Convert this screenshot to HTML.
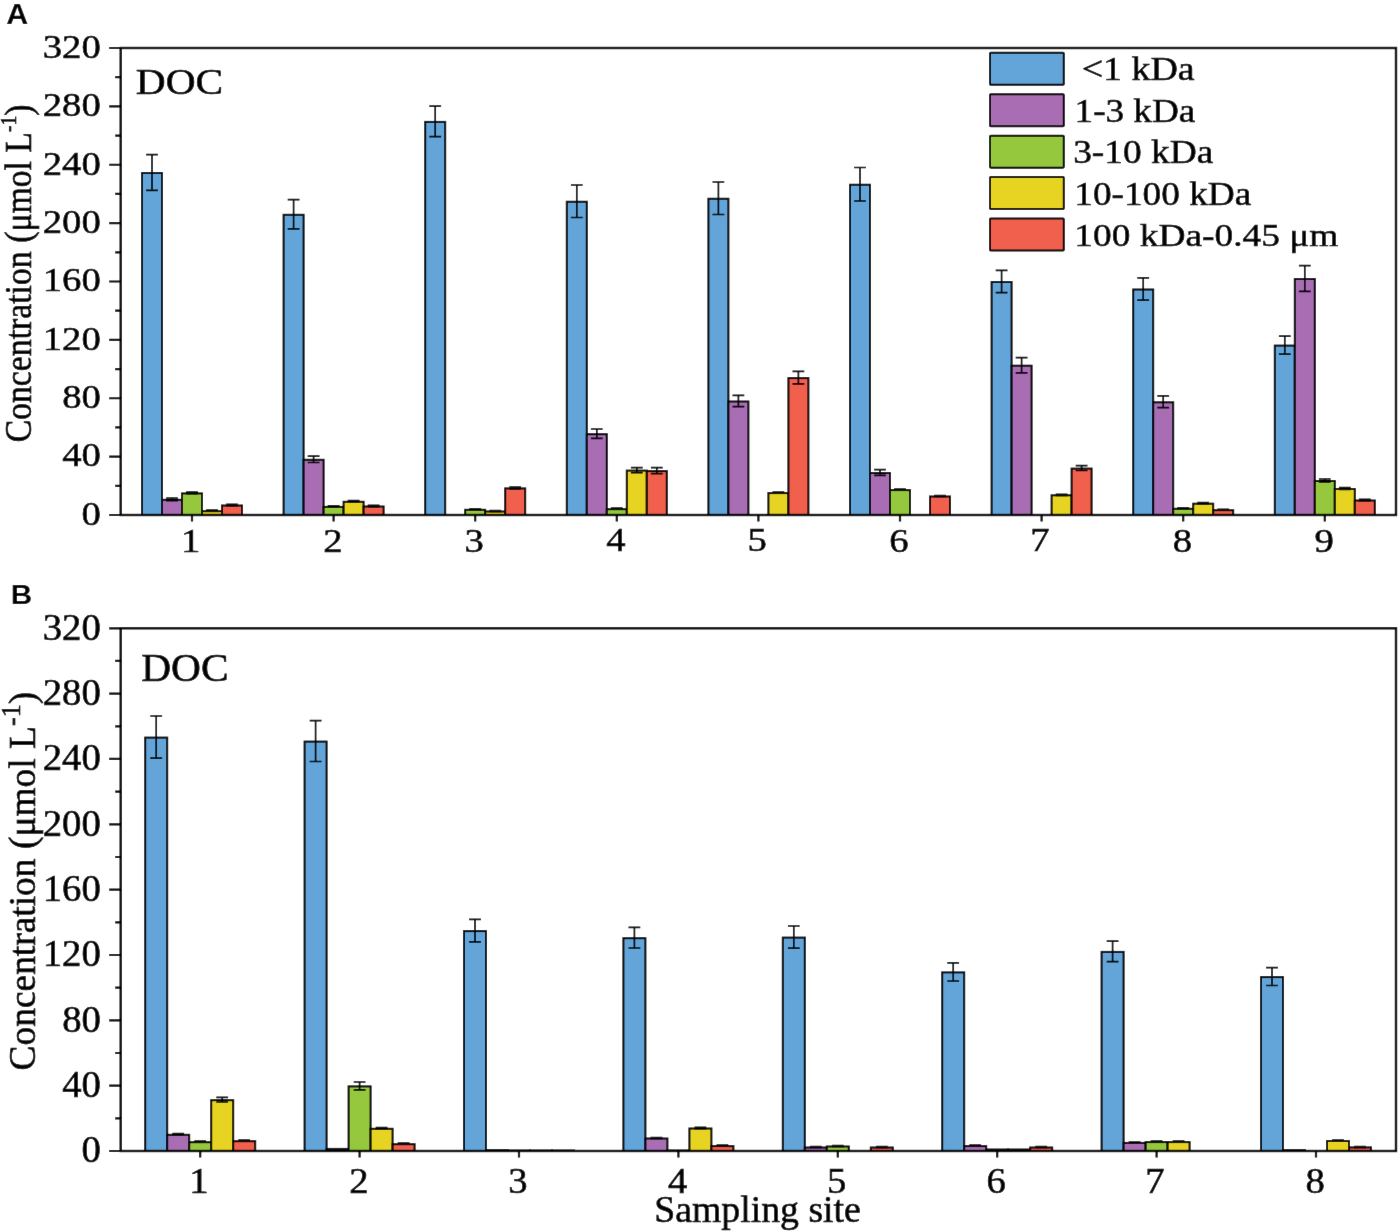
<!DOCTYPE html>
<html><head><meta charset="utf-8"><style>html,body{margin:0;padding:0;background:#fff;overflow:hidden}svg{display:block}</style></head>
<body><svg width="1400" height="1231" viewBox="0 0 1400 1231">
<defs><filter id="bl" x="-1%" y="-1%" width="102%" height="102%"><feConvolveMatrix order="3" kernelMatrix="0.005 0.035 0.005 0.035 0.84 0.035 0.005 0.035 0.005" edgeMode="duplicate" preserveAlpha="false"/></filter></defs>
<g filter="url(#bl)">
<rect width="1400" height="1231" fill="#fff"/>
<rect x="142.00" y="173.00" width="20.00" height="342.00" fill="#64a4d9" stroke="#000" stroke-width="2.0"/>
<path d="M152.00 154.70V190.30M146.10 154.70H157.90M146.10 190.30H157.90" stroke="#000" stroke-width="1.7" fill="none"/>
<rect x="162.00" y="499.80" width="20.00" height="15.20" fill="#a96db3" stroke="#000" stroke-width="2.0"/>
<path d="M172.00 498.00V500.60M166.10 498.00H177.90M166.10 500.60H177.90" stroke="#000" stroke-width="1.7" fill="none"/>
<rect x="182.00" y="493.40" width="20.00" height="21.60" fill="#95c83e" stroke="#000" stroke-width="2.0"/>
<path d="M192.00 492.10V493.70M186.10 492.10H197.90M186.10 493.70H197.90" stroke="#000" stroke-width="1.7" fill="none"/>
<rect x="202.00" y="511.20" width="20.00" height="3.80" fill="#e7d320" stroke="#000" stroke-width="2.0"/>
<path d="M212.00 510.20V511.20M206.10 510.20H217.90M206.10 511.20H217.90" stroke="#000" stroke-width="1.7" fill="none"/>
<rect x="222.00" y="505.50" width="20.00" height="9.50" fill="#f15e4e" stroke="#000" stroke-width="2.0"/>
<path d="M232.00 504.40V505.60M226.10 504.40H237.90M226.10 505.60H237.90" stroke="#000" stroke-width="1.7" fill="none"/>
<rect x="283.60" y="214.80" width="20.00" height="300.20" fill="#64a4d9" stroke="#000" stroke-width="2.0"/>
<path d="M293.60 199.70V228.90M287.70 199.70H299.50M287.70 228.90H299.50" stroke="#000" stroke-width="1.7" fill="none"/>
<rect x="303.60" y="459.80" width="20.00" height="55.20" fill="#a96db3" stroke="#000" stroke-width="2.0"/>
<path d="M313.60 456.10V462.50M307.70 456.10H319.50M307.70 462.50H319.50" stroke="#000" stroke-width="1.7" fill="none"/>
<rect x="323.60" y="506.90" width="20.00" height="8.10" fill="#95c83e" stroke="#000" stroke-width="2.0"/>
<path d="M333.60 505.80V507.00M327.70 505.80H339.50M327.70 507.00H339.50" stroke="#000" stroke-width="1.7" fill="none"/>
<rect x="343.60" y="501.80" width="20.00" height="13.20" fill="#e7d320" stroke="#000" stroke-width="2.0"/>
<path d="M353.60 500.60V502.00M347.70 500.60H359.50M347.70 502.00H359.50" stroke="#000" stroke-width="1.7" fill="none"/>
<rect x="363.60" y="506.50" width="20.00" height="8.50" fill="#f15e4e" stroke="#000" stroke-width="2.0"/>
<path d="M373.60 505.40V506.60M367.70 505.40H379.50M367.70 506.60H379.50" stroke="#000" stroke-width="1.7" fill="none"/>
<rect x="425.20" y="121.90" width="20.00" height="393.10" fill="#64a4d9" stroke="#000" stroke-width="2.0"/>
<path d="M435.20 106.10V136.70M429.30 106.10H441.10M429.30 136.70H441.10" stroke="#000" stroke-width="1.7" fill="none"/>
<rect x="465.20" y="509.80" width="20.00" height="5.20" fill="#95c83e" stroke="#000" stroke-width="2.0"/>
<path d="M475.20 508.90V509.70M469.30 508.90H481.10M469.30 509.70H481.10" stroke="#000" stroke-width="1.7" fill="none"/>
<rect x="485.20" y="511.50" width="20.00" height="3.50" fill="#e7d320" stroke="#000" stroke-width="2.0"/>
<path d="M495.20 510.60V511.40M489.30 510.60H501.10M489.30 511.40H501.10" stroke="#000" stroke-width="1.7" fill="none"/>
<rect x="505.20" y="488.40" width="20.00" height="26.60" fill="#f15e4e" stroke="#000" stroke-width="2.0"/>
<path d="M515.20 487.00V488.80M509.30 487.00H521.10M509.30 488.80H521.10" stroke="#000" stroke-width="1.7" fill="none"/>
<rect x="566.80" y="201.75" width="20.00" height="313.25" fill="#64a4d9" stroke="#000" stroke-width="2.0"/>
<path d="M576.80 185.00V217.50M570.90 185.00H582.70M570.90 217.50H582.70" stroke="#000" stroke-width="1.7" fill="none"/>
<rect x="586.80" y="434.20" width="20.00" height="80.80" fill="#a96db3" stroke="#000" stroke-width="2.0"/>
<path d="M596.80 429.00V438.40M590.90 429.00H602.70M590.90 438.40H602.70" stroke="#000" stroke-width="1.7" fill="none"/>
<rect x="606.80" y="509.20" width="20.00" height="5.80" fill="#95c83e" stroke="#000" stroke-width="2.0"/>
<path d="M616.80 508.20V509.20M610.90 508.20H622.70M610.90 509.20H622.70" stroke="#000" stroke-width="1.7" fill="none"/>
<rect x="626.80" y="470.60" width="20.00" height="44.40" fill="#e7d320" stroke="#000" stroke-width="2.0"/>
<path d="M636.80 467.60V472.60M630.90 467.60H642.70M630.90 472.60H642.70" stroke="#000" stroke-width="1.7" fill="none"/>
<rect x="646.80" y="471.10" width="20.00" height="43.90" fill="#f15e4e" stroke="#000" stroke-width="2.0"/>
<path d="M656.80 467.60V473.60M650.90 467.60H662.70M650.90 473.60H662.70" stroke="#000" stroke-width="1.7" fill="none"/>
<rect x="708.40" y="198.75" width="20.00" height="316.25" fill="#64a4d9" stroke="#000" stroke-width="2.0"/>
<path d="M718.40 182.00V214.50M712.50 182.00H724.30M712.50 214.50H724.30" stroke="#000" stroke-width="1.7" fill="none"/>
<rect x="728.40" y="401.50" width="20.00" height="113.50" fill="#a96db3" stroke="#000" stroke-width="2.0"/>
<path d="M738.40 395.40V406.60M732.50 395.40H744.30M732.50 406.60H744.30" stroke="#000" stroke-width="1.7" fill="none"/>
<rect x="768.40" y="493.10" width="20.00" height="21.90" fill="#e7d320" stroke="#000" stroke-width="2.0"/>
<path d="M778.40 492.00V493.20M772.50 492.00H784.30M772.50 493.20H784.30" stroke="#000" stroke-width="1.7" fill="none"/>
<rect x="788.40" y="378.10" width="20.00" height="136.90" fill="#f15e4e" stroke="#000" stroke-width="2.0"/>
<path d="M798.40 371.40V383.80M792.50 371.40H804.30M792.50 383.80H804.30" stroke="#000" stroke-width="1.7" fill="none"/>
<rect x="850.00" y="184.75" width="20.00" height="330.25" fill="#64a4d9" stroke="#000" stroke-width="2.0"/>
<path d="M860.00 167.50V201.00M854.10 167.50H865.90M854.10 201.00H865.90" stroke="#000" stroke-width="1.7" fill="none"/>
<rect x="870.00" y="473.00" width="20.00" height="42.00" fill="#a96db3" stroke="#000" stroke-width="2.0"/>
<path d="M880.00 469.70V475.30M874.10 469.70H885.90M874.10 475.30H885.90" stroke="#000" stroke-width="1.7" fill="none"/>
<rect x="890.00" y="490.10" width="20.00" height="24.90" fill="#95c83e" stroke="#000" stroke-width="2.0"/>
<path d="M900.00 489.00V490.20M894.10 489.00H905.90M894.10 490.20H905.90" stroke="#000" stroke-width="1.7" fill="none"/>
<rect x="930.00" y="496.50" width="20.00" height="18.50" fill="#f15e4e" stroke="#000" stroke-width="2.0"/>
<path d="M940.00 495.50V496.50M934.10 495.50H945.90M934.10 496.50H945.90" stroke="#000" stroke-width="1.7" fill="none"/>
<rect x="991.60" y="282.00" width="20.00" height="233.00" fill="#64a4d9" stroke="#000" stroke-width="2.0"/>
<path d="M1001.60 270.40V292.60M995.70 270.40H1007.50M995.70 292.60H1007.50" stroke="#000" stroke-width="1.7" fill="none"/>
<rect x="1011.60" y="365.70" width="20.00" height="149.30" fill="#a96db3" stroke="#000" stroke-width="2.0"/>
<path d="M1021.60 357.60V372.80M1015.70 357.60H1027.50M1015.70 372.80H1027.50" stroke="#000" stroke-width="1.7" fill="none"/>
<rect x="1051.60" y="495.30" width="20.00" height="19.70" fill="#e7d320" stroke="#000" stroke-width="2.0"/>
<path d="M1061.60 494.30V495.30M1055.70 494.30H1067.50M1055.70 495.30H1067.50" stroke="#000" stroke-width="1.7" fill="none"/>
<rect x="1071.60" y="468.60" width="20.00" height="46.40" fill="#f15e4e" stroke="#000" stroke-width="2.0"/>
<path d="M1081.60 465.70V470.50M1075.70 465.70H1087.50M1075.70 470.50H1087.50" stroke="#000" stroke-width="1.7" fill="none"/>
<rect x="1133.20" y="289.50" width="20.00" height="225.50" fill="#64a4d9" stroke="#000" stroke-width="2.0"/>
<path d="M1143.20 277.90V300.10M1137.30 277.90H1149.10M1137.30 300.10H1149.10" stroke="#000" stroke-width="1.7" fill="none"/>
<rect x="1153.20" y="402.30" width="20.00" height="112.70" fill="#a96db3" stroke="#000" stroke-width="2.0"/>
<path d="M1163.20 395.90V407.70M1157.30 395.90H1169.10M1157.30 407.70H1169.10" stroke="#000" stroke-width="1.7" fill="none"/>
<rect x="1173.20" y="508.80" width="20.00" height="6.20" fill="#95c83e" stroke="#000" stroke-width="2.0"/>
<path d="M1183.20 507.80V508.80M1177.30 507.80H1189.10M1177.30 508.80H1189.10" stroke="#000" stroke-width="1.7" fill="none"/>
<rect x="1193.20" y="503.70" width="20.00" height="11.30" fill="#e7d320" stroke="#000" stroke-width="2.0"/>
<path d="M1203.20 502.60V503.80M1197.30 502.60H1209.10M1197.30 503.80H1209.10" stroke="#000" stroke-width="1.7" fill="none"/>
<rect x="1213.20" y="510.20" width="20.00" height="4.80" fill="#f15e4e" stroke="#000" stroke-width="2.0"/>
<path d="M1223.20 509.30V510.10M1217.30 509.30H1229.10M1217.30 510.10H1229.10" stroke="#000" stroke-width="1.7" fill="none"/>
<rect x="1274.80" y="345.60" width="20.00" height="169.40" fill="#64a4d9" stroke="#000" stroke-width="2.0"/>
<path d="M1284.80 336.10V354.10M1278.90 336.10H1290.70M1278.90 354.10H1290.70" stroke="#000" stroke-width="1.7" fill="none"/>
<rect x="1294.80" y="279.00" width="20.00" height="236.00" fill="#a96db3" stroke="#000" stroke-width="2.0"/>
<path d="M1304.80 265.60V291.40M1298.90 265.60H1310.70M1298.90 291.40H1310.70" stroke="#000" stroke-width="1.7" fill="none"/>
<rect x="1314.80" y="481.00" width="20.00" height="34.00" fill="#95c83e" stroke="#000" stroke-width="2.0"/>
<path d="M1324.80 479.00V482.00M1318.90 479.00H1330.70M1318.90 482.00H1330.70" stroke="#000" stroke-width="1.7" fill="none"/>
<rect x="1334.80" y="489.00" width="20.00" height="26.00" fill="#e7d320" stroke="#000" stroke-width="2.0"/>
<path d="M1344.80 487.50V489.50M1338.90 487.50H1350.70M1338.90 489.50H1350.70" stroke="#000" stroke-width="1.7" fill="none"/>
<rect x="1354.80" y="500.50" width="20.00" height="14.50" fill="#f15e4e" stroke="#000" stroke-width="2.0"/>
<path d="M1364.80 499.40V500.60M1358.90 499.40H1370.70M1358.90 500.60H1370.70" stroke="#000" stroke-width="1.7" fill="none"/>
<rect x="120.70" y="48.00" width="1275.30" height="467.00" fill="none" stroke="#000" stroke-width="2.4"/>
<path d="M109.20 515.00H120.70M115.20 485.81H120.70M109.20 456.62H120.70M115.20 427.44H120.70M109.20 398.25H120.70M115.20 369.06H120.70M109.20 339.88H120.70M115.20 310.69H120.70M109.20 281.50H120.70M115.20 252.31H120.70M109.20 223.12H120.70M115.20 193.94H120.70M109.20 164.75H120.70M115.20 135.56H120.70M109.20 106.38H120.70M115.20 77.19H120.70M109.20 48.00H120.70M192.00 515.00V521.50M333.60 515.00V521.50M475.20 515.00V521.50M616.80 515.00V521.50M758.40 515.00V521.50M900.00 515.00V521.50M1041.60 515.00V521.50M1183.20 515.00V521.50M1324.80 515.00V521.50" stroke="#000" stroke-width="2.2" fill="none"/>
<text transform="translate(81.49,524.82) scale(0.3872,0.3397)" font-family="Liberation Serif" font-weight="normal" font-size="100" fill="#000" stroke="#000" stroke-width="1.6">0</text>
<text transform="translate(62.13,466.45) scale(0.3872,0.3397)" font-family="Liberation Serif" font-weight="normal" font-size="100" fill="#000" stroke="#000" stroke-width="1.6">40</text>
<text transform="translate(62.13,408.07) scale(0.3872,0.3397)" font-family="Liberation Serif" font-weight="normal" font-size="100" fill="#000" stroke="#000" stroke-width="1.6">80</text>
<text transform="translate(42.76,349.70) scale(0.3872,0.3397)" font-family="Liberation Serif" font-weight="normal" font-size="100" fill="#000" stroke="#000" stroke-width="1.6">120</text>
<text transform="translate(42.76,291.32) scale(0.3872,0.3397)" font-family="Liberation Serif" font-weight="normal" font-size="100" fill="#000" stroke="#000" stroke-width="1.6">160</text>
<text transform="translate(42.76,232.95) scale(0.3872,0.3397)" font-family="Liberation Serif" font-weight="normal" font-size="100" fill="#000" stroke="#000" stroke-width="1.6">200</text>
<text transform="translate(42.76,174.57) scale(0.3872,0.3397)" font-family="Liberation Serif" font-weight="normal" font-size="100" fill="#000" stroke="#000" stroke-width="1.6">240</text>
<text transform="translate(42.76,116.20) scale(0.3872,0.3397)" font-family="Liberation Serif" font-weight="normal" font-size="100" fill="#000" stroke="#000" stroke-width="1.6">280</text>
<text transform="translate(42.76,57.82) scale(0.3872,0.3397)" font-family="Liberation Serif" font-weight="normal" font-size="100" fill="#000" stroke="#000" stroke-width="1.6">320</text>
<text transform="translate(180.94,551.54) scale(0.3870,0.3370)" font-family="Liberation Serif" font-weight="normal" font-size="100" fill="#000" stroke="#000" stroke-width="1.6">1</text>
<text transform="translate(323.32,551.54) scale(0.3870,0.3370)" font-family="Liberation Serif" font-weight="normal" font-size="100" fill="#000" stroke="#000" stroke-width="1.6">2</text>
<text transform="translate(464.53,551.54) scale(0.3870,0.3370)" font-family="Liberation Serif" font-weight="normal" font-size="100" fill="#000" stroke="#000" stroke-width="1.6">3</text>
<text transform="translate(606.33,551.20) scale(0.3870,0.3370)" font-family="Liberation Serif" font-weight="normal" font-size="100" fill="#000" stroke="#000" stroke-width="1.6">4</text>
<text transform="translate(747.54,551.20) scale(0.3870,0.3370)" font-family="Liberation Serif" font-weight="normal" font-size="100" fill="#000" stroke="#000" stroke-width="1.6">5</text>
<text transform="translate(889.33,551.54) scale(0.3870,0.3370)" font-family="Liberation Serif" font-weight="normal" font-size="100" fill="#000" stroke="#000" stroke-width="1.6">6</text>
<text transform="translate(1030.35,551.20) scale(0.3870,0.3370)" font-family="Liberation Serif" font-weight="normal" font-size="100" fill="#000" stroke="#000" stroke-width="1.6">7</text>
<text transform="translate(1172.72,551.54) scale(0.3870,0.3370)" font-family="Liberation Serif" font-weight="normal" font-size="100" fill="#000" stroke="#000" stroke-width="1.6">8</text>
<text transform="translate(1314.52,551.54) scale(0.3870,0.3370)" font-family="Liberation Serif" font-weight="normal" font-size="100" fill="#000" stroke="#000" stroke-width="1.6">9</text>
<text transform="translate(30.55,442.35) rotate(-90) scale(0.3374,0.3833)" font-family="Liberation Serif" font-weight="normal" font-size="100" fill="#000" stroke="#000" stroke-width="1.6">Concentration (μmol L<tspan dy="-38" font-size="58">-1</tspan><tspan dy="38">)</tspan></text>
<text transform="translate(135.86,94.29) scale(0.4138,0.3574)" font-family="Liberation Serif" font-weight="normal" font-size="100" fill="#000" stroke="#000" stroke-width="1.6">DOC</text>
<rect x="145.20" y="737.60" width="22.00" height="413.40" fill="#64a4d9" stroke="#000" stroke-width="2.0"/>
<path d="M156.20 716.00V758.20M150.30 716.00H162.10M150.30 758.20H162.10" stroke="#000" stroke-width="1.7" fill="none"/>
<rect x="167.20" y="1134.80" width="22.00" height="16.20" fill="#a96db3" stroke="#000" stroke-width="2.0"/>
<path d="M178.20 1133.50V1135.10M172.30 1133.50H184.10M172.30 1135.10H184.10" stroke="#000" stroke-width="1.7" fill="none"/>
<rect x="189.20" y="1142.20" width="22.00" height="8.80" fill="#95c83e" stroke="#000" stroke-width="2.0"/>
<path d="M200.20 1141.20V1142.20M194.30 1141.20H206.10M194.30 1142.20H206.10" stroke="#000" stroke-width="1.7" fill="none"/>
<rect x="211.20" y="1100.20" width="22.00" height="50.80" fill="#e7d320" stroke="#000" stroke-width="2.0"/>
<path d="M222.20 1097.40V1102.00M216.30 1097.40H228.10M216.30 1102.00H228.10" stroke="#000" stroke-width="1.7" fill="none"/>
<rect x="233.20" y="1141.20" width="22.00" height="9.80" fill="#f15e4e" stroke="#000" stroke-width="2.0"/>
<path d="M244.20 1140.20V1141.20M238.30 1140.20H250.10M238.30 1141.20H250.10" stroke="#000" stroke-width="1.7" fill="none"/>
<rect x="304.60" y="741.60" width="22.00" height="409.40" fill="#64a4d9" stroke="#000" stroke-width="2.0"/>
<path d="M315.60 720.70V761.50M309.70 720.70H321.50M309.70 761.50H321.50" stroke="#000" stroke-width="1.7" fill="none"/>
<rect x="326.60" y="1148.90" width="22.00" height="2.10" fill="#a96db3" stroke="#000" stroke-width="2.0"/>
<rect x="348.60" y="1086.40" width="22.00" height="64.60" fill="#95c83e" stroke="#000" stroke-width="2.0"/>
<path d="M359.60 1082.00V1089.80M353.70 1082.00H365.50M353.70 1089.80H365.50" stroke="#000" stroke-width="1.7" fill="none"/>
<rect x="370.60" y="1128.80" width="22.00" height="22.20" fill="#e7d320" stroke="#000" stroke-width="2.0"/>
<path d="M381.60 1127.60V1129.00M375.70 1127.60H387.50M375.70 1129.00H387.50" stroke="#000" stroke-width="1.7" fill="none"/>
<rect x="392.60" y="1144.20" width="22.00" height="6.80" fill="#f15e4e" stroke="#000" stroke-width="2.0"/>
<path d="M403.60 1143.20V1144.20M397.70 1143.20H409.50M397.70 1144.20H409.50" stroke="#000" stroke-width="1.7" fill="none"/>
<rect x="464.00" y="931.10" width="22.00" height="219.90" fill="#64a4d9" stroke="#000" stroke-width="2.0"/>
<path d="M475.00 919.40V941.80M469.10 919.40H480.90M469.10 941.80H480.90" stroke="#000" stroke-width="1.7" fill="none"/>
<rect x="486.00" y="1150.00" width="22.00" height="1.00" fill="#a96db3" stroke="#000" stroke-width="2.0"/>
<rect x="508.00" y="1150.50" width="22.00" height="0.50" fill="#95c83e" stroke="#000" stroke-width="2.0"/>
<rect x="530.00" y="1150.50" width="22.00" height="0.50" fill="#e7d320" stroke="#000" stroke-width="2.0"/>
<rect x="552.00" y="1150.50" width="22.00" height="0.50" fill="#f15e4e" stroke="#000" stroke-width="2.0"/>
<rect x="623.40" y="938.20" width="22.00" height="212.80" fill="#64a4d9" stroke="#000" stroke-width="2.0"/>
<path d="M634.40 927.40V948.00M628.50 927.40H640.30M628.50 948.00H640.30" stroke="#000" stroke-width="1.7" fill="none"/>
<rect x="645.40" y="1138.50" width="22.00" height="12.50" fill="#a96db3" stroke="#000" stroke-width="2.0"/>
<path d="M656.40 1137.50V1138.50M650.50 1137.50H662.30M650.50 1138.50H662.30" stroke="#000" stroke-width="1.7" fill="none"/>
<rect x="667.40" y="1150.50" width="22.00" height="0.50" fill="#95c83e" stroke="#000" stroke-width="2.0"/>
<rect x="689.40" y="1128.50" width="22.00" height="22.50" fill="#e7d320" stroke="#000" stroke-width="2.0"/>
<path d="M700.40 1127.40V1128.60M694.50 1127.40H706.30M694.50 1128.60H706.30" stroke="#000" stroke-width="1.7" fill="none"/>
<rect x="711.40" y="1146.10" width="22.00" height="4.90" fill="#f15e4e" stroke="#000" stroke-width="2.0"/>
<path d="M722.40 1145.20V1146.00M716.50 1145.20H728.30M716.50 1146.00H728.30" stroke="#000" stroke-width="1.7" fill="none"/>
<rect x="782.80" y="937.60" width="22.00" height="213.40" fill="#64a4d9" stroke="#000" stroke-width="2.0"/>
<path d="M793.80 926.00V948.20M787.90 926.00H799.70M787.90 948.20H799.70" stroke="#000" stroke-width="1.7" fill="none"/>
<rect x="804.80" y="1147.50" width="22.00" height="3.50" fill="#a96db3" stroke="#000" stroke-width="2.0"/>
<path d="M815.80 1146.60V1147.40M809.90 1146.60H821.70M809.90 1147.40H821.70" stroke="#000" stroke-width="1.7" fill="none"/>
<rect x="826.80" y="1146.50" width="22.00" height="4.50" fill="#95c83e" stroke="#000" stroke-width="2.0"/>
<path d="M837.80 1145.50V1146.50M831.90 1145.50H843.70M831.90 1146.50H843.70" stroke="#000" stroke-width="1.7" fill="none"/>
<rect x="870.80" y="1147.50" width="22.00" height="3.50" fill="#f15e4e" stroke="#000" stroke-width="2.0"/>
<path d="M881.80 1146.60V1147.40M875.90 1146.60H887.70M875.90 1147.40H887.70" stroke="#000" stroke-width="1.7" fill="none"/>
<rect x="942.20" y="972.40" width="22.00" height="178.60" fill="#64a4d9" stroke="#000" stroke-width="2.0"/>
<path d="M953.20 962.80V981.00M947.30 962.80H959.10M947.30 981.00H959.10" stroke="#000" stroke-width="1.7" fill="none"/>
<rect x="964.20" y="1146.10" width="22.00" height="4.90" fill="#a96db3" stroke="#000" stroke-width="2.0"/>
<path d="M975.20 1145.20V1146.00M969.30 1145.20H981.10M969.30 1146.00H981.10" stroke="#000" stroke-width="1.7" fill="none"/>
<rect x="986.20" y="1149.50" width="22.00" height="1.50" fill="#95c83e" stroke="#000" stroke-width="2.0"/>
<rect x="1008.20" y="1149.50" width="22.00" height="1.50" fill="#e7d320" stroke="#000" stroke-width="2.0"/>
<rect x="1030.20" y="1147.50" width="22.00" height="3.50" fill="#f15e4e" stroke="#000" stroke-width="2.0"/>
<path d="M1041.20 1146.60V1147.40M1035.30 1146.60H1047.10M1035.30 1147.40H1047.10" stroke="#000" stroke-width="1.7" fill="none"/>
<rect x="1101.60" y="951.90" width="22.00" height="199.10" fill="#64a4d9" stroke="#000" stroke-width="2.0"/>
<path d="M1112.60 941.20V961.60M1106.70 941.20H1118.50M1106.70 961.60H1118.50" stroke="#000" stroke-width="1.7" fill="none"/>
<rect x="1123.60" y="1142.90" width="22.00" height="8.10" fill="#a96db3" stroke="#000" stroke-width="2.0"/>
<path d="M1134.60 1142.00V1142.80M1128.70 1142.00H1140.50M1128.70 1142.80H1140.50" stroke="#000" stroke-width="1.7" fill="none"/>
<rect x="1145.60" y="1142.10" width="22.00" height="8.90" fill="#95c83e" stroke="#000" stroke-width="2.0"/>
<path d="M1156.60 1141.20V1142.00M1150.70 1141.20H1162.50M1150.70 1142.00H1162.50" stroke="#000" stroke-width="1.7" fill="none"/>
<rect x="1167.60" y="1142.10" width="22.00" height="8.90" fill="#e7d320" stroke="#000" stroke-width="2.0"/>
<path d="M1178.60 1141.20V1142.00M1172.70 1141.20H1184.50M1172.70 1142.00H1184.50" stroke="#000" stroke-width="1.7" fill="none"/>
<rect x="1261.00" y="977.10" width="22.00" height="173.90" fill="#64a4d9" stroke="#000" stroke-width="2.0"/>
<path d="M1272.00 967.70V985.50M1266.10 967.70H1277.90M1266.10 985.50H1277.90" stroke="#000" stroke-width="1.7" fill="none"/>
<rect x="1283.00" y="1150.00" width="22.00" height="1.00" fill="#a96db3" stroke="#000" stroke-width="2.0"/>
<rect x="1327.00" y="1141.00" width="22.00" height="10.00" fill="#e7d320" stroke="#000" stroke-width="2.0"/>
<path d="M1338.00 1140.00V1141.00M1332.10 1140.00H1343.90M1332.10 1141.00H1343.90" stroke="#000" stroke-width="1.7" fill="none"/>
<rect x="1349.00" y="1147.40" width="22.00" height="3.60" fill="#f15e4e" stroke="#000" stroke-width="2.0"/>
<path d="M1360.00 1146.50V1147.30M1354.10 1146.50H1365.90M1354.10 1147.30H1365.90" stroke="#000" stroke-width="1.7" fill="none"/>
<rect x="120.70" y="628.30" width="1275.30" height="522.70" fill="none" stroke="#000" stroke-width="2.4"/>
<path d="M109.20 1151.00H120.70M115.20 1118.33H120.70M109.20 1085.66H120.70M115.20 1052.99H120.70M109.20 1020.33H120.70M115.20 987.66H120.70M109.20 954.99H120.70M115.20 922.32H120.70M109.20 889.65H120.70M115.20 856.98H120.70M109.20 824.31H120.70M115.20 791.64H120.70M109.20 758.97H120.70M115.20 726.31H120.70M109.20 693.64H120.70M115.20 660.97H120.70M109.20 628.30H120.70M200.20 1151.00V1157.50M359.60 1151.00V1157.50M519.00 1151.00V1157.50M678.40 1151.00V1157.50M837.80 1151.00V1157.50M997.20 1151.00V1157.50M1156.60 1151.00V1157.50M1316.00 1151.00V1157.50" stroke="#000" stroke-width="2.2" fill="none"/>
<text transform="translate(81.49,1162.46) scale(0.3872,0.3691)" font-family="Liberation Serif" font-weight="normal" font-size="100" fill="#000" stroke="#000" stroke-width="1.6">0</text>
<text transform="translate(62.13,1097.12) scale(0.3872,0.3691)" font-family="Liberation Serif" font-weight="normal" font-size="100" fill="#000" stroke="#000" stroke-width="1.6">40</text>
<text transform="translate(62.13,1031.79) scale(0.3872,0.3691)" font-family="Liberation Serif" font-weight="normal" font-size="100" fill="#000" stroke="#000" stroke-width="1.6">80</text>
<text transform="translate(42.76,966.45) scale(0.3872,0.3691)" font-family="Liberation Serif" font-weight="normal" font-size="100" fill="#000" stroke="#000" stroke-width="1.6">120</text>
<text transform="translate(42.76,901.11) scale(0.3872,0.3691)" font-family="Liberation Serif" font-weight="normal" font-size="100" fill="#000" stroke="#000" stroke-width="1.6">160</text>
<text transform="translate(42.76,835.77) scale(0.3872,0.3691)" font-family="Liberation Serif" font-weight="normal" font-size="100" fill="#000" stroke="#000" stroke-width="1.6">200</text>
<text transform="translate(42.76,770.44) scale(0.3872,0.3691)" font-family="Liberation Serif" font-weight="normal" font-size="100" fill="#000" stroke="#000" stroke-width="1.6">240</text>
<text transform="translate(42.76,705.10) scale(0.3872,0.3691)" font-family="Liberation Serif" font-weight="normal" font-size="100" fill="#000" stroke="#000" stroke-width="1.6">280</text>
<text transform="translate(42.76,639.76) scale(0.3872,0.3691)" font-family="Liberation Serif" font-weight="normal" font-size="100" fill="#000" stroke="#000" stroke-width="1.6">320</text>
<text transform="translate(189.14,1193.06) scale(0.3870,0.3600)" font-family="Liberation Serif" font-weight="normal" font-size="100" fill="#000" stroke="#000" stroke-width="1.6">1</text>
<text transform="translate(349.32,1193.06) scale(0.3870,0.3600)" font-family="Liberation Serif" font-weight="normal" font-size="100" fill="#000" stroke="#000" stroke-width="1.6">2</text>
<text transform="translate(508.33,1193.06) scale(0.3870,0.3600)" font-family="Liberation Serif" font-weight="normal" font-size="100" fill="#000" stroke="#000" stroke-width="1.6">3</text>
<text transform="translate(667.93,1192.70) scale(0.3870,0.3600)" font-family="Liberation Serif" font-weight="normal" font-size="100" fill="#000" stroke="#000" stroke-width="1.6">4</text>
<text transform="translate(826.94,1192.70) scale(0.3870,0.3600)" font-family="Liberation Serif" font-weight="normal" font-size="100" fill="#000" stroke="#000" stroke-width="1.6">5</text>
<text transform="translate(986.53,1193.06) scale(0.3870,0.3600)" font-family="Liberation Serif" font-weight="normal" font-size="100" fill="#000" stroke="#000" stroke-width="1.6">6</text>
<text transform="translate(1145.35,1192.70) scale(0.3870,0.3600)" font-family="Liberation Serif" font-weight="normal" font-size="100" fill="#000" stroke="#000" stroke-width="1.6">7</text>
<text transform="translate(1305.53,1193.06) scale(0.3870,0.3600)" font-family="Liberation Serif" font-weight="normal" font-size="100" fill="#000" stroke="#000" stroke-width="1.6">8</text>
<text transform="translate(34.78,1070.50) rotate(-90) scale(0.3745,0.3867)" font-family="Liberation Serif" font-weight="normal" font-size="100" fill="#000" stroke="#000" stroke-width="1.6">Concentration (μmol L<tspan dy="-37.5" font-size="70">-1</tspan><tspan dy="37.5">)</tspan></text>
<text transform="translate(141.26,680.98) scale(0.4133,0.4103)" font-family="Liberation Serif" font-weight="normal" font-size="100" fill="#000" stroke="#000" stroke-width="1.6">DOC</text>
<rect x="990.00" y="52.80" width="73.80" height="32.00" rx="0.8" fill="#64a4d9" stroke="#000" stroke-width="2"/>
<rect x="990.00" y="94.23" width="73.80" height="32.00" rx="0.8" fill="#a96db3" stroke="#000" stroke-width="2"/>
<rect x="990.00" y="135.66" width="73.80" height="32.00" rx="0.8" fill="#95c83e" stroke="#000" stroke-width="2"/>
<rect x="990.00" y="177.09" width="73.80" height="32.00" rx="0.8" fill="#e7d320" stroke="#000" stroke-width="2"/>
<rect x="990.00" y="218.52" width="73.80" height="32.00" rx="0.8" fill="#f15e4e" stroke="#000" stroke-width="2"/>
<text transform="translate(1081.70,80.35) scale(0.3791,0.3471)" font-family="Liberation Serif" font-weight="normal" font-size="100" fill="#000" stroke="#000" stroke-width="1.6">&lt;1 kDa</text>
<text transform="translate(1074.55,121.76) scale(0.3717,0.3357)" font-family="Liberation Serif" font-weight="normal" font-size="100" fill="#000" stroke="#000" stroke-width="1.6">1-3 kDa</text>
<text transform="translate(1073.13,163.32) scale(0.3740,0.3380)" font-family="Liberation Serif" font-weight="normal" font-size="100" fill="#000" stroke="#000" stroke-width="1.6">3-10 kDa</text>
<text transform="translate(1074.24,204.95) scale(0.3729,0.3268)" font-family="Liberation Serif" font-weight="normal" font-size="100" fill="#000" stroke="#000" stroke-width="1.6">10-100 kDa</text>
<text transform="translate(1074.23,246.23) scale(0.3741,0.3222)" font-family="Liberation Serif" font-weight="normal" font-size="100" fill="#000" stroke="#000" stroke-width="1.6">100 kDa-0.45 μm</text>
<text transform="translate(6.19,24.00) scale(0.3045,0.2971)" font-family="Liberation Sans" font-weight="bold" font-size="100" fill="#000" stroke="#000" stroke-width="0">A</text>
<text transform="translate(10.82,604.30) scale(0.2967,0.2797)" font-family="Liberation Sans" font-weight="bold" font-size="100" fill="#000" stroke="#000" stroke-width="0">B</text>
<text transform="translate(654.16,1221.69) scale(0.3777,0.3767)" font-family="Liberation Serif" font-weight="normal" font-size="100" fill="#000" stroke="#000" stroke-width="1.6">Sampling site</text>
</g>
</svg></body></html>
